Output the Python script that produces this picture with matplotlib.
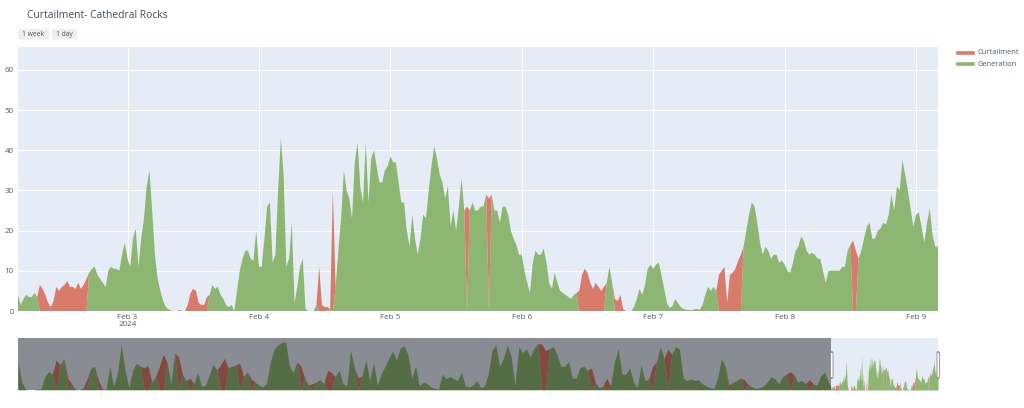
import numpy as np
import pandas as pd
import matplotlib
matplotlib.use("Agg")
import matplotlib.pyplot as plt
import matplotlib.dates as mdates
from matplotlib.patches import FancyBboxPatch
from matplotlib.lines import Line2D

plt.rcParams['font.family'] = ['Open Sans', 'DejaVu Sans']

# ---------------- data ----------------
title = "Curtailment- Cathedral Rocks"
series_names = ["Curtailment", "Generation"]
buttons = ["1 week", "1 day"]

# detailed window: half-hourly from 2024-02-02 04:00
main_start = "2024-02-02 04:00"
main_gen = [
    4, 1.5, 3, 4, 3.5, 3.5, 4.5, 3.5, 0, 0,
    0, 0, 0, 0, 0, 0, 0, 0, 0, 0,
    0, 0, 0, 0, 0, 0, 9.5, 10.5, 11, 9,
    8, 7, 6, 10, 11, 10.5, 10.5, 10, 14, 17,
    13, 11, 18, 20.5, 11, 18, 23, 31, 35, 25,
    14, 8, 5, 2.5, 1, 0.4, 0.1, 0, 0, 0.3,
    0, 0, 0, 0, 0, 0, 0, 0, 0, 0,
    4, 6.5, 5.5, 6, 4, 3, 1.5, 1, 1.5, 0,
    5, 10, 13, 15, 15, 13, 12.5, 20, 11, 11,
    18, 26, 27, 12, 14, 30, 43, 34, 11, 13,
    22, 2, 6, 11, 13, 0.5, 0, 0, 0, 1.5,
    0, 0, 0, 0, 0.5, 0, 6, 15, 23, 35,
    30, 28, 23, 37, 42, 31, 27, 42, 27, 38,
    40, 36, 32, 32, 35, 36, 38.5, 37, 37, 32,
    27, 27, 20, 16, 24, 18, 14, 18, 24, 23,
    30, 36, 41, 38, 34, 32, 28, 31, 21, 25,
    20, 26, 33, 25, 0, 25, 27, 25, 25, 26,
    26, 29, 0, 29, 25, 25, 22, 26, 26, 24,
    20, 18, 16.5, 14, 14, 10, 7, 4.5, 12, 15,
    14, 14, 15.5, 12, 7, 5.5, 9.5, 7, 5, 4.5,
    4, 3.5, 3, 4, 4.5, 0, 0, 0, 0, 0,
    0, 0, 0, 0, 0, 7, 11, 7, 0, 0,
    0, 0, 0, 0, 0, 1, 3, 5.5, 4, 6.5,
    10.5, 11.5, 10.5, 11.5, 12, 9, 5.5, 2, 0.8, 1.2,
    3, 2, 1, 0.5, 0.3, 0.3, 0.2, 0.4, 0.5, 0.3,
    1.5, 4, 6, 5, 6, 5, 0, 0, 0, 0,
    0, 0, 0, 0, 0, 16, 20, 24, 27, 26,
    22, 17, 14, 16, 15, 13, 14, 14, 12, 12.5,
    11.5, 10, 9.5, 12, 15, 16, 18.5, 17.5, 15, 14,
    14.5, 14, 13, 13, 10, 7, 10, 10, 10, 10,
    10, 11, 11, 15, 16.5, 0, 0, 13, 15, 18,
    21, 22, 18, 18, 20, 20.5, 22, 21.5, 24, 29,
    25, 31, 30, 37.5, 34, 30, 25.5, 21, 24, 24.5,
    21, 17, 22, 25.5, 19, 16, 16,
]
main_curt = [
    0, 0, 0, 0, 0, 0, 0, 0, 6.5, 5.5,
    4, 2, 1, 2.5, 6, 5, 6, 6.5, 7.5, 6,
    6, 5.5, 7, 5.5, 6.5, 8, 0, 0, 0, 0,
    0, 0, 0, 0, 0, 0, 0, 0, 0, 0,
    0, 0, 0, 0, 0, 0, 0, 0, 0, 0,
    0, 0, 0, 0, 0, 0, 0, 0, 0, 0,
    0, 0, 1.5, 4.5, 5.5, 5, 2, 1.5, 1.5, 3.5,
    0, 0, 0, 0, 0, 0, 0, 0, 0, 0,
    0, 0, 0, 0, 0, 0, 0, 0, 0, 0,
    0, 0, 0, 0, 0, 0, 0, 0, 0, 0,
    0, 0, 0, 0, 0, 0, 0, 0, 0, 0,
    11, 1.5, 1, 1, 0, 30, 0, 0, 0, 0,
    0, 0, 0, 0, 0, 0, 0, 0, 0, 0,
    0, 0, 0, 0, 0, 0, 0, 0, 0, 0,
    0, 0, 0, 0, 0, 0, 0, 0, 0, 0,
    0, 0, 0, 0, 0, 0, 0, 0, 0, 0,
    0, 0, 0, 0, 26, 0, 0, 0, 0, 0,
    0, 0, 28, 0, 0, 0, 0, 0, 0, 0,
    0, 0, 0, 0, 0, 0, 0, 0, 0, 0,
    0, 0, 0, 0, 0, 0, 0, 0, 0, 0,
    0, 0, 0, 0, 0, 5, 9, 10.5, 9.5, 7,
    5.5, 7, 6, 5, 6, 0, 0, 0, 3, 2.5,
    4, 0.5, 0, 0, 0, 0, 0, 0, 0, 0,
    0, 0, 0, 0, 0, 0, 0, 0, 0, 0,
    0, 0, 0, 0, 0, 0, 0, 0, 0, 0,
    0, 0, 0, 0, 0, 0, 9, 10, 11, 2,
    9, 9.5, 10.5, 12.5, 14, 0, 0, 0, 0, 0,
    0, 0, 0, 0, 0, 0, 0, 0, 0, 0,
    0, 0, 0, 0, 0, 0, 0, 0, 0, 0,
    0, 0, 0, 0, 0, 0, 0, 0, 0, 0,
    0, 0, 0, 0, 0, 17.5, 15, 0, 0, 0,
    0, 0, 0, 0, 0, 0, 0, 0, 0, 0,
    0, 0, 0, 0, 0, 0, 0, 0, 0, 0,
    0, 0, 0, 0, 0, 0, 0,
]

# earlier history (range slider): 6-hourly from 2023-12-11 00:00
hist_start = "2023-12-11 00:00"
hist_gen = [
    35, 10, 0.5, 0, 0, 1, 1.5, 17, 23, 20,
    0, 32, 40, 0, 8, 1, 0, 3, 0, 27,
    30, 0, 2, 0.5, 30, 5, 20, 58, 25, 3,
    25, 34, 30, 0, 0, 10, 17, 0, 0, 35,
    8, 47, 0, 20, 12, 0, 8, 22, 5, 6,
    18, 33, 25, 0, 0, 28, 30, 32, 0, 17,
    23, 0, 10, 6, 4, 8, 35, 52, 57, 60,
    61, 30, 22, 36, 0, 15, 6, 0, 10, 13,
    8, 0, 0, 17, 25, 8, 5, 50, 28, 0,
    18, 38, 12, 35, 6, 20, 30, 40, 49, 38,
    53, 56, 45, 15, 30, 5, 10, 8, 4, 2,
    1, 20, 14, 17, 14, 12, 23, 5, 4, 6,
    12, 3, 5, 20, 50, 57, 30, 40, 57, 42,
    6, 55, 47, 52, 42, 53, 59, 0, 0, 52,
    55, 45, 30, 30, 36, 15, 15, 28, 30, 25,
    0, 10, 3, 5, 0, 5, 35, 52, 20, 20,
    28, 10, 3, 32, 12, 14, 0, 35, 55, 40,
    0, 45, 55, 52, 15, 12, 14, 12, 13, 8,
    5, 3, 2, 15, 40, 30, 0, 10, 12, 15,
    0, 7, 4, 2, 3, 5, 10, 17, 14, 8,
    17, 20, 0, 19, 10, 12, 8, 0, 8, 6,
    18, 23, 10,
]
hist_curt = [
    0, 0, 0, 0, 0, 0, 0, 0, 0, 0,
    38, 0, 0, 15, 0, 0, 0, 0, 13, 0,
    0, 13, 0, 0, 0, 0, 0, 0, 0, 0,
    0, 0, 0, 28, 31, 0, 0, 30, 45, 0,
    0, 0, 42, 0, 0, 15, 0, 0, 0, 0,
    0, 0, 0, 32, 40, 0, 0, 0, 34, 0,
    0, 14, 0, 0, 0, 0, 0, 0, 0, 0,
    0, 0, 0, 0, 30, 0, 0, 8, 0, 0,
    0, 25, 22, 0, 0, 0, 0, 0, 0, 15,
    0, 0, 0, 0, 0, 0, 0, 0, 0, 0,
    0, 0, 0, 0, 0, 0, 0, 0, 0, 0,
    0, 0, 0, 0, 0, 0, 0, 0, 0, 0,
    0, 0, 0, 0, 0, 0, 0, 0, 0, 0,
    0, 0, 0, 0, 0, 0, 0, 58, 50, 0,
    0, 0, 0, 0, 0, 0, 0, 0, 0, 0,
    28, 0, 0, 0, 15, 0, 0, 0, 0, 0,
    0, 0, 0, 0, 0, 0, 30, 0, 0, 0,
    52, 0, 0, 0, 0, 0, 0, 0, 0, 0,
    0, 0, 0, 0, 0, 0, 6, 0, 0, 0,
    13, 0, 0, 0, 0, 0, 0, 0, 0, 0,
    0, 0, 23, 0, 0, 0, 0, 13, 0, 0,
    0, 0, 0,
]

x_tick_dates = ["2024-02-03", "2024-02-04", "2024-02-05", "2024-02-06",
                "2024-02-07", "2024-02-08", "2024-02-09"]
x_tick_labels = ["Feb 3\n2024", "Feb 4", "Feb 5", "Feb 6", "Feb 7", "Feb 8", "Feb 9"]
y_ticks = [0, 10, 20, 30, 40, 50, 60]

# ---------------- build ----------------
main_t = pd.date_range(main_start, periods=len(main_gen), freq="30min")
hist_t = pd.date_range(hist_start, periods=len(hist_gen), freq="6h")
all_t = hist_t.append(main_t)
all_gen = np.array(hist_gen + main_gen, dtype=float)
all_curt = np.array(hist_curt + main_curt, dtype=float)

GREEN = "#8db672"
RED = "#d97b6b"
BG = "#E5ECF6"
TXT = "#4f5b6d"
YMAX = 65.7

W, H = 1024, 408
fig = plt.figure(figsize=(W / 100, H / 100), dpi=100)
fig.patch.set_facecolor("white")


def ax_px(x0, y0, x1, y1):
    return fig.add_axes([x0 / W, 1 - y1 / H, (x1 - x0) / W, (y1 - y0) / H])


# main axes
ax = ax_px(18, 47, 938, 311)
ax.set_facecolor(BG)
ax.fill_between(all_t, 0, all_gen, color=GREEN, lw=0, zorder=3)
ax.fill_between(all_t, all_gen, all_gen + all_curt, color=RED, lw=0, zorder=3)
ax.set_xlim(main_t[0], main_t[-1])
ax.set_ylim(0, YMAX)
ax.set_yticks(y_ticks)
ax.set_yticklabels([str(v) for v in y_ticks])
ax.set_xticks(pd.to_datetime(x_tick_dates))
ax.set_xticklabels(x_tick_labels, linespacing=1.05)
ax.tick_params(length=0, labelsize=5.8, colors=TXT, pad=3)
ax.tick_params(axis="x", pad=2)
ax.grid(True, color="white", lw=0.8, zorder=1)
for s in ax.spines.values():
    s.set_visible(False)
ax.set_axisbelow(True)

# range slider
rs = ax_px(18, 338, 938, 390)
rs.set_facecolor(BG)
rs.fill_between(all_t, 0, all_gen, color=GREEN, lw=0)
rs.fill_between(all_t, all_gen, all_gen + all_curt, color=RED, lw=0)
rs.set_xlim(all_t[0], all_t[-1])
rs.set_ylim(0, YMAX)
rs.axvspan(all_t[0], main_t[0], color="black", alpha=0.4, lw=0, zorder=5)
rs.set_xticks([])
rs.set_yticks([])
for s in rs.spines.values():
    s.set_visible(False)

# slider handles
for hx in (830.5, 937.0):
    fig.patches.append(FancyBboxPatch((hx / W, 1 - 378 / H), 2.5 / W, 26 / H,
                                      boxstyle="round,pad=0,rounding_size=0.002",
                                      transform=fig.transFigure, fc="white",
                                      ec="#999999", lw=0.7, zorder=10))

# title
fig.text(27 / W, 1 - 15 / H, title, fontsize=7.4, color="#3d4b60", va="center", ha="left")

# range-selector buttons
for (bx0, bx1), lab in zip([(18, 49), (52, 77)], buttons):
    fig.patches.append(FancyBboxPatch((bx0 / W, 1 - 39.5 / H), (bx1 - bx0) / W, 10.5 / H,
                                      boxstyle="round,pad=0,rounding_size=0.002",
                                      transform=fig.transFigure, fc="#eeeeee",
                                      ec="none", zorder=5))
    fig.text((bx0 + bx1) / 2 / W, 1 - 34.3 / H, lab, fontsize=4.9, color="#555555",
             ha="center", va="center", zorder=6)

# legend
for ly, col, name in [(53, RED, series_names[0]), (64, GREEN, series_names[1])]:
    fig.lines.append(Line2D([958 / W, 973 / W], [1 - ly / H, 1 - ly / H],
                            transform=fig.transFigure, color=col, lw=2.6))
    fig.text(977 / W, 1 - ly / H, name, fontsize=5.4, color=TXT, va="center", ha="left")

fig.savefig("out.png", dpi=100)
